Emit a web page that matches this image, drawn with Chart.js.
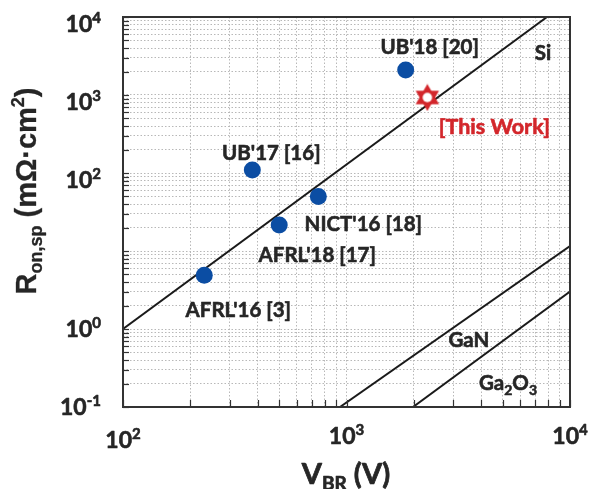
<!DOCTYPE html>
<html>
<head>
<meta charset="utf-8">
<script src="https://cdn.jsdelivr.net/npm/chart.js@4.4.1/dist/chart.umd.min.js"></script>
<style>
  html, body { margin: 0; padding: 0; background: #ffffff; }
  #wrap { width: 590px; height: 489px; }
  canvas { display: block; }
</style>
</head>
<body>
<div id="wrap"><canvas id="chart" width="590" height="489"></canvas></div>
<script>
// Reported devices: breakdown voltage (V) and specific on-resistance (mΩ·cm²)
const deviceNames = ["AFRL'16 [3]", "UB'17 [16]", "AFRL'18 [17]", "NICT'16 [18]", "UB'18 [20]"];
const deviceVbr = [231, 379, 500, 748, 1840];
const deviceRon = [4.9, 109, 21.5, 50, 2090];

const thisWorkName = "[This Work]";
const thisWorkVbr = [2300];
const thisWorkRon = [930];

// Material limit lines (end points)
const limitNames = ["Si", "GaN", "Ga2O3"];
const siVbr = [100, 7890];
const siRon = [1, 10000];
const ganVbr = [935, 10000];
const ganRon = [0.1, 11.6];
const ga2o3Vbr = [1984, 10000];
const ga2o3Ron = [0.1, 3.03];

// Labelled axis ticks (exponents of ten)
const xTickExps = [2, 3, 4];
const yTickExps = [4, 3, 2, 0, -1];

const FONT = 'Lato, "Open Sans", "DejaVu Sans", sans-serif';
const ARIAL = '"Liberation Sans", Arial, sans-serif';
const TEXT = '#262626';
const BLUE = '#0b4da3';
const RED = '#d3262b';

const toPts = (xs, ys) => xs.map((x, i) => ({ x: x, y: ys[i] }));

// Hexagram marker with white centre
function makeStar(size) {
  const c = document.createElement('canvas');
  c.width = size; c.height = size;
  const g = c.getContext('2d');
  const cx = size / 2, cy = size / 2, r = size / 2 - 0.5;
  g.fillStyle = RED;
  [-90, 90].forEach(a0 => {
    g.beginPath();
    for (let k = 0; k < 3; k++) {
      const a = (a0 + k * 120) * Math.PI / 180;
      const px = cx + r * Math.cos(a), py = cy + r * Math.sin(a);
      if (k === 0) g.moveTo(px, py); else g.lineTo(px, py);
    }
    g.closePath();
    g.fill();
  });
  g.beginPath();
  g.arc(cx, cy, size * 0.17, 0, Math.PI * 2);
  g.fillStyle = '#ffffff';
  g.fill();
  return c;
}
const starImg = makeStar(28);

// Log ticks at 1..9 × 10^n
function logTicks(scale) {
  const out = [];
  const lo = Math.round(Math.log10(scale.min)), hi = Math.round(Math.log10(scale.max));
  for (let e = lo; e <= hi; e++) {
    for (let m = 1; m <= 9; m++) {
      const v = m * Math.pow(10, e);
      if (v >= scale.min * 0.999 && v <= scale.max * 1.001) out.push({ value: v });
    }
  }
  scale.ticks = out;
}

// Draw a run of text pieces: [{t, size, dy}] laid out left to right
function richWidth(ctx, parts, weight, family) {
  let w = 0;
  parts.forEach(p => { ctx.font = `${weight} ${p.size}px ${family}`; w += ctx.measureText(p.t).width; });
  return w;
}
function drawRich(ctx, parts, x, y, align, weight, family, color, heavy) {
  const w = richWidth(ctx, parts, weight, family);
  let cx = align === 'center' ? x - w / 2 : (align === 'right' ? x - w : x);
  ctx.fillStyle = color;
  ctx.strokeStyle = color;
  ctx.lineWidth = heavy || 0;
  ctx.lineJoin = 'round';
  ctx.textAlign = 'left';
  ctx.textBaseline = 'alphabetic';
  parts.forEach(p => {
    ctx.font = `${weight} ${p.size}px ${family}`;
    ctx.fillText(p.t, cx, y + (p.dy || 0));
    if (heavy) ctx.strokeText(p.t, cx, y + (p.dy || 0));
    cx += ctx.measureText(p.t).width;
  });
}

// Label placement relative to each point (pixels)
const deviceLabelShift = [[34, 42], [19, -10], [38, 37], [45, 35], [24, -16]];
const thisWorkLabelShift = [67, 37];
// Limit-line captions, anchored in data coordinates
const limitLabelAnchor = { Si: [7570, 3450], GaN: [3530, 0.72], Ga2O3: [5280, 0.203] };

const decor = {
  id: 'decor',
  afterDatasetsDraw(chart) {
    const ctx = chart.ctx;
    const a = chart.chartArea;
    const xs = chart.scales.x, ys = chart.scales.y;
    ctx.save();

    // inward tick marks on left and bottom axes
    ctx.strokeStyle = '#333333';
    ctx.lineWidth = 1.2;
    ys.ticks.forEach(t => {
      const py = Math.round(ys.getPixelForValue(t.value)) + 0.5;
      ctx.beginPath(); ctx.moveTo(a.left, py); ctx.lineTo(a.left + 6, py); ctx.stroke();
    });
    xs.ticks.forEach(t => {
      const px = Math.round(xs.getPixelForValue(t.value)) + 0.5;
      ctx.beginPath(); ctx.moveTo(px, a.bottom); ctx.lineTo(px, a.bottom - 7); ctx.stroke();
    });

    // frame
    ctx.strokeStyle = '#333333';
    ctx.lineWidth = 2;
    ctx.strokeRect(a.left, a.top, a.right - a.left, a.bottom - a.top);

    // y tick labels
    yTickExps.forEach(e => {
      const py = ys.getPixelForValue(Math.pow(10, e));
      const nudge = e >= 2 ? 7 : 0;
      drawRich(ctx, [{ t: '10', size: 23 }, { t: String(e), size: 15, dy: -9 }],
        101, py + nudge + 8, 'right', 'bold', FONT, TEXT, 0.6);
    });
    // x tick labels
    xTickExps.forEach(e => {
      const px = xs.getPixelForValue(Math.pow(10, e));
      drawRich(ctx, [{ t: '10', size: 23 }, { t: String(e), size: 15, dy: -9 }],
        px, e === 2 ? 448 : 444, 'center', 'bold', FONT, TEXT, 0.6);
    });

    // axis titles
    drawRich(ctx, [{ t: 'V', size: 29 }, { t: 'BR', size: 19, dy: 6 }, { t: ' (V)', size: 29 }],
      346, 484, 'center', 'bold', FONT, TEXT, 0.7);
    ctx.save();
    ctx.translate(36, 191);
    ctx.rotate(-Math.PI / 2);
    drawRich(ctx, [{ t: 'R', size: 29 }, { t: 'on,sp', size: 18, dy: 6 }, { t: ' (mΩ·cm', size: 29 },
      { t: '2', size: 18, dy: -12 }, { t: ')', size: 29 }], 0, 0, 'center', 'bold', ARIAL, TEXT, 0.3);
    ctx.restore();

    // point captions
    deviceNames.forEach((name, i) => {
      const px = xs.getPixelForValue(deviceVbr[i]), py = ys.getPixelForValue(deviceRon[i]);
      drawRich(ctx, [{ t: name, size: 20.5 }], px + deviceLabelShift[i][0], py + deviceLabelShift[i][1],
        'center', 'bold', FONT, TEXT, 0.6);
    });
    {
      const px = xs.getPixelForValue(thisWorkVbr[0]), py = ys.getPixelForValue(thisWorkRon[0]);
      drawRich(ctx, [{ t: thisWorkName, size: 21.5 }], px + thisWorkLabelShift[0], py + thisWorkLabelShift[1],
        'center', 'bold', FONT, RED, 0.6);
    }

    // limit captions
    limitNames.forEach(n => {
      const [vx, vy] = limitLabelAnchor[n];
      const px = xs.getPixelForValue(vx), py = ys.getPixelForValue(vy) + 7;
      const parts = n === 'Ga2O3'
        ? [{ t: 'Ga', size: 20.5 }, { t: '2', size: 14, dy: 5 }, { t: 'O', size: 20.5 }, { t: '3', size: 14, dy: 5 }]
        : [{ t: n, size: 20.5 }];
      drawRich(ctx, parts, px, py, 'center', 'bold', FONT, TEXT, 0.6);
    });

    ctx.restore();
  }
};

const gridStyle = { color: '#b8b8b8', lineWidth: 1, drawTicks: false };

new Chart(document.getElementById('chart'), {
  type: 'scatter',
  data: {
    datasets: [
      {
        label: thisWorkName,
        data: toPts(thisWorkVbr, thisWorkRon),
        pointStyle: starImg,
        pointRadius: 14,
        pointHoverRadius: 14
      },
      {
        label: 'Reported',
        data: toPts(deviceVbr, deviceRon),
        pointStyle: 'circle',
        pointRadius: 8.5,
        pointHoverRadius: 8.5,
        backgroundColor: BLUE,
        borderColor: BLUE,
        borderWidth: 0
      },
      {
        label: limitNames[0], data: toPts(siVbr, siRon), showLine: true,
        borderColor: '#1a1a1a', borderWidth: 2, pointRadius: 0, fill: false
      },
      {
        label: limitNames[1], data: toPts(ganVbr, ganRon), showLine: true,
        borderColor: '#1a1a1a', borderWidth: 2, pointRadius: 0, fill: false
      },
      {
        label: limitNames[2], data: toPts(ga2o3Vbr, ga2o3Ron), showLine: true,
        borderColor: '#1a1a1a', borderWidth: 2, pointRadius: 0, fill: false
      }
    ]
  },
  options: {
    responsive: false,
    animation: false,
    devicePixelRatio: 1,
    layout: { padding: { left: 123, right: 20, top: 17, bottom: 82 } },
    plugins: { legend: { display: false }, tooltip: { enabled: false } },
    events: [],
    scales: {
      x: {
        type: 'logarithmic', min: 100, max: 10000,
        afterBuildTicks: logTicks,
        afterFit: s => { s.height = 0; },
        ticks: { display: false },
        grid: gridStyle,
        border: { display: false, dash: [1.5, 2] }
      },
      y: {
        type: 'logarithmic', min: 0.1, max: 10000,
        afterBuildTicks: logTicks,
        afterFit: s => { s.width = 0; },
        ticks: { display: false },
        grid: gridStyle,
        border: { display: false, dash: [1.5, 2] }
      }
    }
  },
  plugins: [decor]
});
</script>
</body>
</html>
